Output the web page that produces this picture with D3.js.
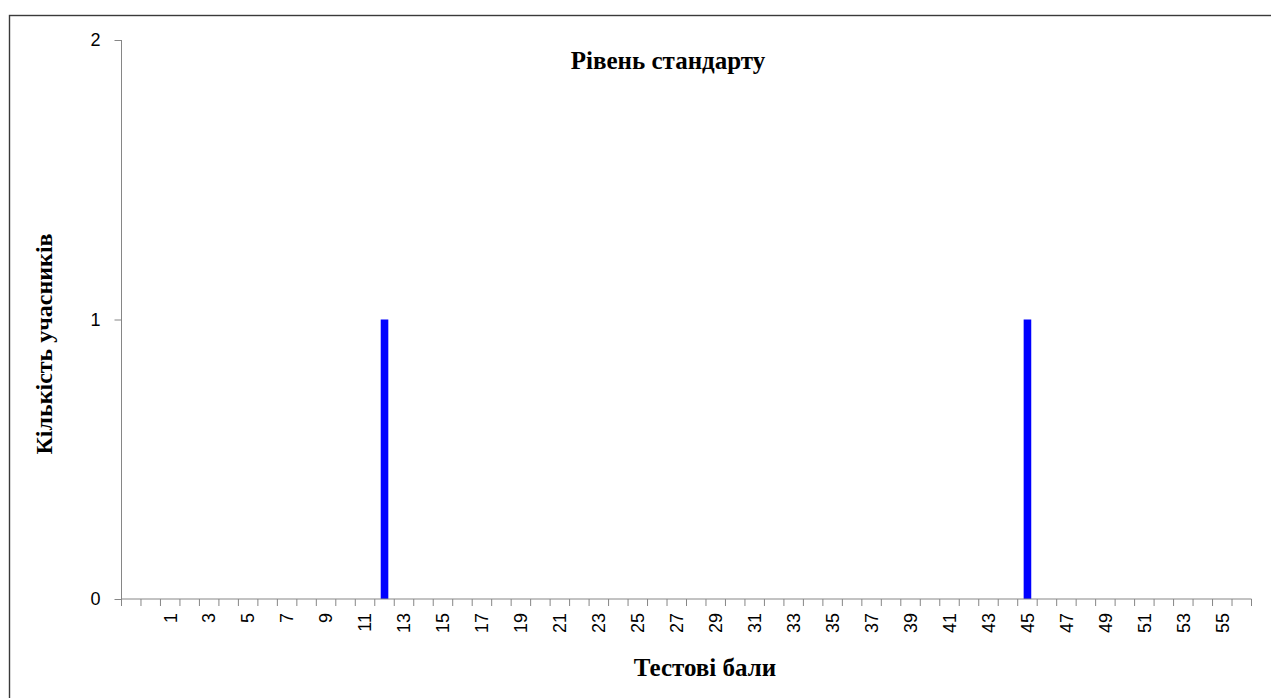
<!DOCTYPE html>
<html>
<head>
<meta charset="utf-8">
<script src="https://cdn.jsdelivr.net/npm/d3@7"></script>
<style>
  html, body { margin: 0; padding: 0; background: #fff; }
  svg { display: block; }
</style>
</head>
<body>
<svg id="chart" width="1271" height="698"></svg>
<script>
// Data
const title = "Рівень стандарту";
const yTitle = "Кількість учасників";
const xTitle = "Тестові бали";
const categories = ["", "0", "1", "2", "3", "4", "5", "6", "7", "8", "9", "10", "11", "12", "13", "14", "15", "16", "17", "18", "19", "20", "21", "22", "23", "24", "25", "26", "27", "28", "29", "30", "31", "32", "33", "34", "35", "36", "37", "38", "39", "40", "41", "42", "43", "44", "45", "46", "47", "48", "49", "50", "51", "52", "53", "54", "55", "56"];
const scores = ["12", "45"];
const counts = [1, 1];
const yTicks = [0, 1, 2];

const svg = d3.select("#chart");
const plotLeft = 121.5, plotRight = 1251.5, plotTop = 40, plotBottom = 599;
const tickFont = "'Liberation Sans', Arial, sans-serif";
const titleFont = "'Liberation Serif', 'Times New Roman', serif";

// outer border (chart area frame, clipped by window on right and bottom)
svg.append("rect")
  .attr("x", 9.5).attr("y", 15.5)
  .attr("width", 1300).attr("height", 720)
  .attr("fill", "none").attr("stroke", "#3a3a3a").attr("stroke-width", 1.4);

const x = d3.scaleBand().domain(categories).range([plotLeft, plotRight]).paddingInner(0).paddingOuter(0);
const y = d3.scaleLinear().domain([0, 2]).range([plotBottom, plotTop]);

// bars
const barW = x.step() * 0.39;
svg.append("g").selectAll("rect")
  .data(scores.map((s, i) => ({ s, v: counts[i] })))
  .join("rect")
  .attr("x", d => x(d.s) + x.step() / 2 - barW / 2)
  .attr("y", d => y(d.v))
  .attr("width", barW)
  .attr("height", d => y(0) - y(d.v))
  .attr("fill", "#0000ff");

// y axis
const yAxis = svg.append("g").attr("transform", `translate(${plotLeft},0)`)
  .call(d3.axisLeft(y).tickValues(yTicks).tickFormat(d3.format("d")).tickSize(7).tickPadding(14));
yAxis.select(".domain").attr("stroke", "#868686").attr("d", `M0,${plotTop}V${plotBottom}`);
yAxis.selectAll(".tick line").attr("stroke", "#868686");
yAxis.selectAll(".tick text").attr("font-family", tickFont)
  .attr("font-size", 18).attr("fill", "#000");

// x axis
const xAxis = svg.append("g").attr("transform", `translate(0,${plotBottom})`)
  .call(d3.axisBottom(x).tickSize(0).tickFormat((d, i) => i % 2 === 0 ? d : ""));
xAxis.select(".domain").attr("stroke", "#868686").attr("d", `M${plotLeft},0H${plotRight}`);
// tick marks at category boundaries
xAxis.append("g").selectAll("line")
  .data(categories.concat(["__end"]))
  .join("line")
  .attr("x1", (d, i) => plotLeft + i * x.step())
  .attr("x2", (d, i) => plotLeft + i * x.step())
  .attr("y1", 0).attr("y2", 7)
  .attr("stroke", "#868686");
xAxis.selectAll(".tick text")
  .attr("font-family", tickFont)
  .attr("font-size", 18).attr("fill", "#000")
  .attr("transform", "rotate(-90)")
  .attr("text-anchor", "end")
  .attr("x", -14).attr("y", 0).attr("dy", "0.35em");

// titles
svg.append("text").attr("x", 668).attr("y", 69)
  .attr("text-anchor", "middle")
  .attr("font-family", titleFont)
  .attr("font-weight", "bold").attr("font-size", 25)
  .text(title);

svg.append("text").attr("x", 705).attr("y", 676)
  .attr("text-anchor", "middle")
  .attr("font-family", titleFont)
  .attr("font-weight", "bold").attr("font-size", 25)
  .text(xTitle);

svg.append("text")
  .attr("transform", "translate(52,344) rotate(-90)")
  .attr("text-anchor", "middle")
  .attr("font-family", titleFont)
  .attr("font-weight", "bold").attr("font-size", 24)
  .text(yTitle);
</script>
</body>
</html>
